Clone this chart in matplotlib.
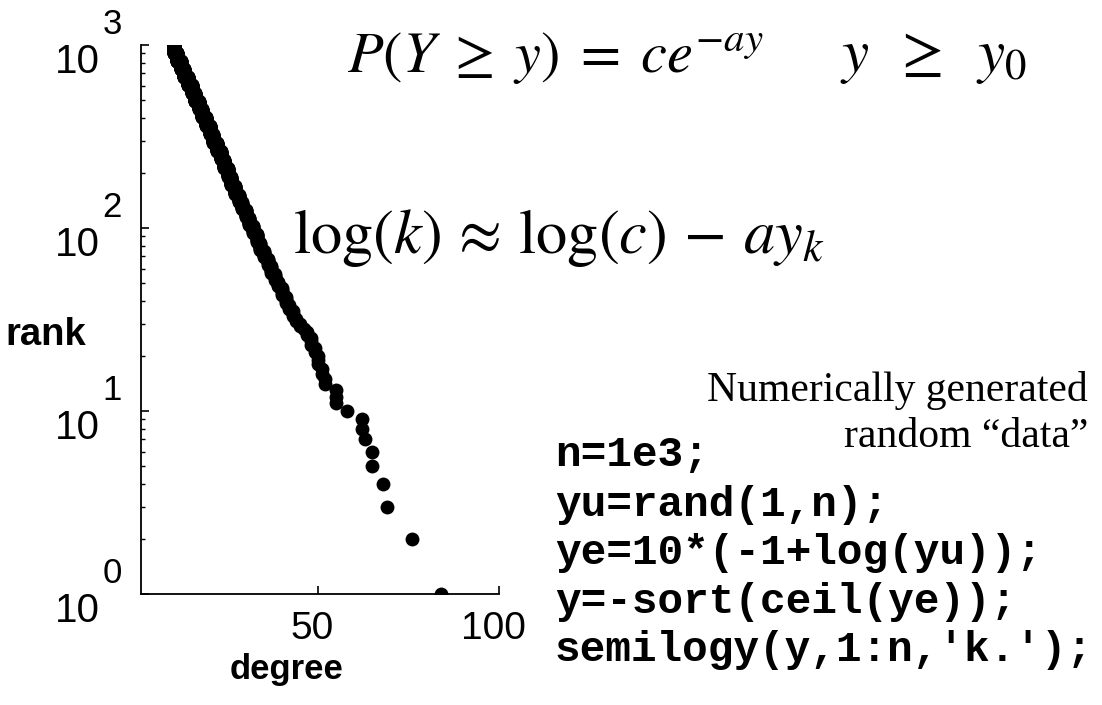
import numpy as np
import matplotlib
matplotlib.use("Agg")
import matplotlib.pyplot as plt
import matplotlib.transforms as mtransforms
from matplotlib.ticker import FixedLocator, LogLocator, NullFormatter

# degree values and how many of the 1000 samples fall on each degree
degrees = [10, 11, 12, 13, 14, 15, 16, 17, 18, 19, 20, 21, 22, 23, 24, 25, 26,
           27, 28, 29, 30, 31, 32, 33, 34, 35, 36, 37, 38, 39, 40, 41, 42, 43,
           44, 45, 46, 47, 48, 49, 50, 51, 52, 55, 58, 62, 63, 65, 68, 69, 76, 84]
counts = [97, 88, 77, 70, 65, 58, 53, 46, 44, 40, 37, 33, 30, 26, 24, 22, 20,
          18, 14, 12, 12, 11, 10, 10, 8, 7, 6, 6, 5, 4, 5, 4, 3, 3,
          2, 2, 1, 2, 3, 2, 3, 2, 2, 3, 1, 2, 1, 2, 1, 1, 1, 1]
x_ticks = [50, 100]
x_tick_labels = ["50", "100"]
y_ticks = [1, 10, 100, 1000]
y_exponents = ["0", "1", "2", "3"]

code_lines = ["n=1e3;",
              "yu=rand(1,n);",
              "ye=10*(-1+log(yu));",
              "y=-sort(ceil(ye));",
              "semilogy(y,1:n,'k.');"]

plt.rcParams['font.family'] = ['Liberation Sans', 'DejaVu Sans']

W, H = 1102, 705
fig = plt.figure(figsize=(W / 100, H / 100), dpi=100)


def fx(px):
    return px / W


def fy(py):
    return 1 - py / H


# sorted sample: rank 1 is the largest degree
y_sorted = np.repeat(degrees, counts)[::-1]
ranks = np.arange(1, len(y_sorted) + 1)

ax = fig.add_axes([fx(141), fy(594), fx(499) - fx(141), fy(45) - fy(594)])
ax.semilogy(y_sorted, ranks, 'o', color='black', markersize=10,
            markeredgewidth=0)
ax.set_xlim(1, 100)
ax.set_ylim(1, 1000)

for side in ('top', 'right'):
    ax.spines[side].set_visible(False)
for side in ('left', 'bottom'):
    ax.spines[side].set_linewidth(1.3)

ax.xaxis.set_major_locator(FixedLocator(x_ticks))
ax.set_xticklabels(x_tick_labels)
ax.yaxis.set_major_locator(FixedLocator(y_ticks))
ax.yaxis.set_minor_locator(LogLocator(base=10, subs=np.arange(2, 10)))
ax.yaxis.set_minor_formatter(NullFormatter())
ax.set_yticklabels([])

ax.tick_params(axis='both', which='major', direction='in', length=6, width=1.2)
ax.tick_params(axis='y', which='minor', direction='in', length=3, width=1.0)
ax.tick_params(axis='x', which='major', pad=12, labelsize=28)

shift = mtransforms.ScaledTranslation(-6 / 100, 0, fig.dpi_scale_trans)
for lab in ax.get_xticklabels():
    lab.set_transform(lab.get_transform() + shift)

# power-of-ten labels: base and raised exponent
for val, ex in zip(y_ticks, y_exponents):
    ax.annotate('10', xy=(0, val), xycoords=('axes fraction', 'data'),
                xytext=(-29.5, -12.5), textcoords='offset points',
                fontsize=29, ha='right', va='center')
    ax.annotate(ex, xy=(0, val), xycoords=('axes fraction', 'data'),
                xytext=(-27.6, 14.5), textcoords='offset points',
                fontsize=25, ha='left', va='center')

ax.set_xlabel('degree', fontsize=25, fontweight='bold')
ax.xaxis.set_label_coords((287 - 141) / (499 - 141), -(670 - 594) / (594 - 45))
ax.xaxis.label.set_va('center')
ax.set_ylabel('rank', fontsize=27.5, fontweight='bold', rotation=0)
ax.yaxis.set_label_coords((46 - 141) / (499 - 141), (594 - 335) / (594 - 45))
ax.yaxis.label.set_va('center')
ax.yaxis.label.set_ha('center')

# formulas
fig.text(fx(347), fy(58), r'$P(Y\;\geq\;y)\;=\;ce^{-ay}$', fontsize=42,
         math_fontfamily='stix', va='center', ha='left')
fig.text(fx(840), fy(58), r'$y\;\;\geq\;\;y_0$', fontsize=44,
         math_fontfamily='stix', va='center', ha='left')
fig.text(fx(293), fy(238),
         r'$\mathrm{log}(k)\,\approx\,\mathrm{log}(c)\,-\,ay_k$',
         fontsize=45, math_fontfamily='stix', va='center', ha='left')

# caption
fig.text(fx(1088), fy(390), 'Numerically generated', fontsize=30,
         family='Liberation Serif', ha='right', va='center')
fig.text(fx(1088), fy(437), 'random \u201cdata\u201d', fontsize=30,
         family='Liberation Serif', ha='right', va='center')

# generating code
line_y = [455, 505, 553, 602, 650]
for txt, yy in zip(code_lines, line_y):
    fig.text(fx(555), fy(yy), txt, fontsize=30.8, family='Liberation Mono',
             fontweight='bold', ha='left', va='center')

fig.savefig('out.png', dpi=100, facecolor='white')
